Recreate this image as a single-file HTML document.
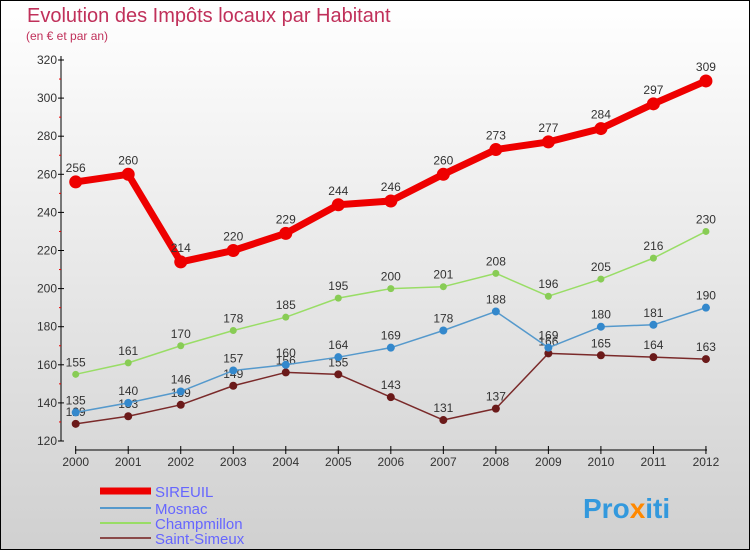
<!DOCTYPE html>
<html><head><meta charset="utf-8"><style>
body{margin:0}
#c{width:750px;height:550px;position:relative;font-family:"Liberation Sans",sans-serif}
</style></head><body>
<div id="c">
<svg id="s" width="750" height="550" xmlns="http://www.w3.org/2000/svg">
<defs><linearGradient id="bg" x1="0" y1="0" x2="0" y2="1"><stop offset="0" stop-color="#ffffff"/><stop offset="1" stop-color="#d0d0d0"/></linearGradient></defs>
<rect x="0.5" y="0.5" width="749" height="549" fill="url(#bg)" stroke="#000"/>
<text x="27" y="22" font-size="20" fill="#c0305a">Evolution des Impôts locaux par Habitant</text>
<text x="26" y="40" font-size="12" fill="#c0305a">(en € et par an)</text>
<g id="axes"></g><g id="marks"></g><g id="legend"></g>
<text x="583" y="518" font-size="28" font-weight="bold" fill="#3399dd">Pro<tspan fill="#ff8800">x</tspan>iti</text>
</svg></div>
<script>
const years=[2000,2001,2002,2003,2004,2005,2006,2007,2008,2009,2010,2011,2012];
const sireuil=[256,260,214,220,229,244,246,260,273,277,284,297,309];
const mosnac=[135,140,146,157,160,164,169,178,188,169,180,181,190];
const champmillon=[155,161,170,178,185,195,200,201,208,196,205,216,230];
const saintSimeux=[129,133,139,149,156,155,143,131,137,166,165,164,163];
const yTicks=[120,140,160,180,200,220,240,260,280,300,320];
const NS="http://www.w3.org/2000/svg";
const X=i=>75.7+i*52.52;
const Y=v=>441-(v-120)*(381/200);
function el(t,a,p){const e=document.createElementNS(NS,t);for(const k in a)e.setAttribute(k,a[k]);p.appendChild(e);return e;}
const ax=document.getElementById('axes'),mk=document.getElementById('marks'),lg=document.getElementById('legend');
let e=el('line',{x1:61,y1:56,x2:61,y2:441,stroke:'#000'},ax);

e=el('line',{x1:75,y1:450,x2:707,y2:450,stroke:'#000'},ax);

yTicks.forEach(v=>{el('line',{x1:58,x2:64,y1:Y(v),y2:Y(v),stroke:'#000'},ax);
 if(v<320)el('line',{x1:59,x2:61,y1:Y(v+10),y2:Y(v+10),stroke:'#e00'},ax);
 const t=el('text',{x:57,y:Y(v)+4,'font-size':12,'text-anchor':'end',fill:'#333'},ax);t.textContent=v;
 });
years.forEach((y,i)=>{el('line',{x1:X(i),x2:X(i),y1:446,y2:454,stroke:'#000'},ax);
 const t=el('text',{x:X(i),y:466,'font-size':12,'text-anchor':'middle',fill:'#333'},ax);t.textContent=y;
 });
const series=[
 {n:'Saint-Simeux',d:saintSimeux,c:'#7a2a2a',m:'#6b1a1a',w:1.5,r:4},
 {n:'Champmillon',d:champmillon,c:'#99dd66',m:'#88cc55',w:1.5,r:3.5},
 {n:'Mosnac',d:mosnac,c:'#5599cc',m:'#3388cc',w:1.5,r:4},
 {n:'SIREUIL',d:sireuil,c:'#ee0000',m:'#ee0000',w:7,r:6.5}];
series.forEach(s=>{
 const g=el('g',{},mk);
 el('polyline',{points:s.d.map((v,i)=>X(i)+','+Y(v)).join(' '),fill:'none',stroke:s.c,'stroke-width':s.w,'stroke-linejoin':'round'},g);
 s.d.forEach((v,i)=>{const p=el('circle',{cx:X(i),cy:Y(v),r:s.r,fill:s.m},g);
  
  const t=el('text',{x:X(i),y:Y(v)-(s.w>5?10:8),'font-size':12,'text-anchor':'middle',fill:'#333'},g);t.textContent=v;
  });
});
const leg=[['SIREUIL','#ee0000',7,491],['Mosnac','#5599cc',2,508],['Champmillon','#99dd66',2,523],['Saint-Simeux','#8a4a4a',2,538]];
leg.forEach(l=>{const g=el('g',{},lg);
 el('line',{x1:100,x2:151,y1:l[3],y2:l[3],stroke:l[1],'stroke-width':l[2]},g);
 const t=el('text',{x:155,y:l[3]+6,'font-size':15,fill:'#6666ff'},g);t.textContent=l[0];});
</script></body></html>
